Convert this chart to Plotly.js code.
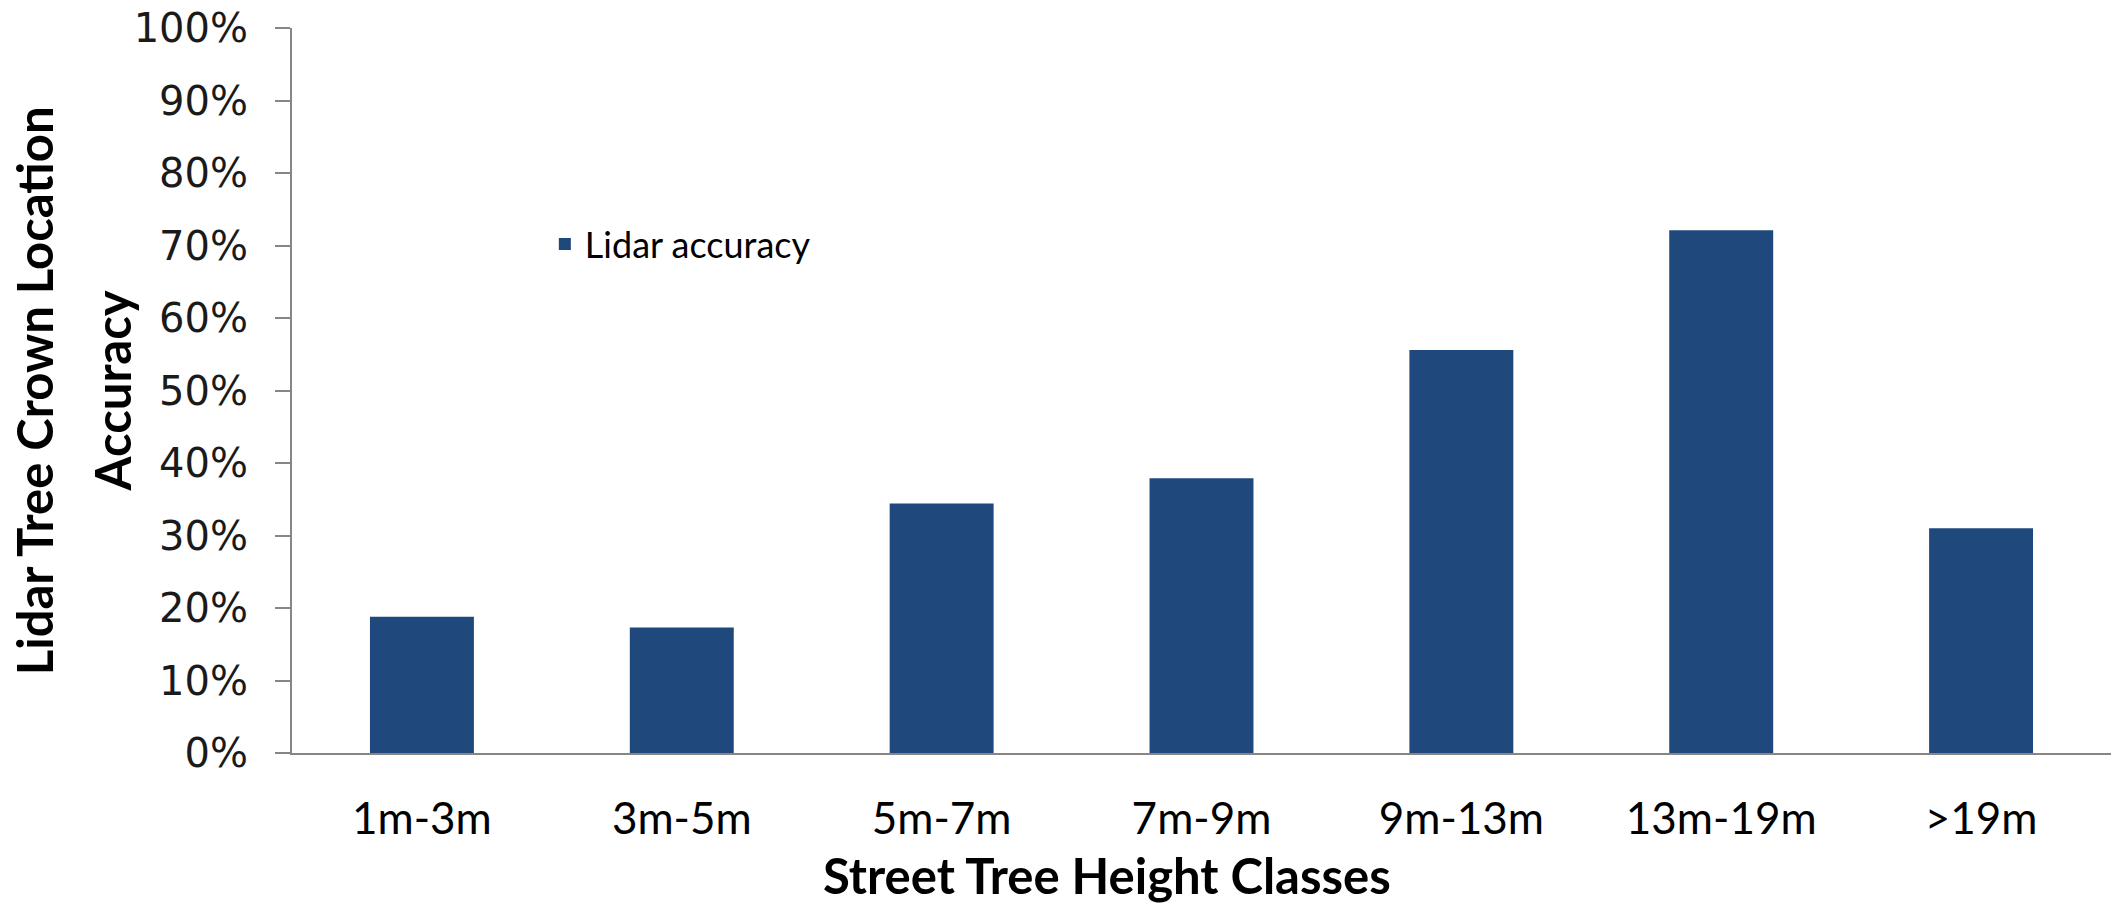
<!DOCTYPE html>
<html>
<head>
<meta charset="utf-8">
<script src="https://cdn.plot.ly/plotly-3.0.1.min.js"></script>
<style>
html,body{margin:0;padding:0;background:#fff;}
#chart{width:2111px;height:908px;}
</style>
</head>
<body>
<div id="chart"></div>
<script>
const categories = ["1m-3m", "3m-5m", "5m-7m", "7m-9m", "9m-13m", "13m-19m", ">19m"];
const lidarAccuracy = [0.188, 0.173, 0.344, 0.379, 0.556, 0.721, 0.310];
const seriesName = "Lidar accuracy";
const yTickVals = [0, 0.1, 0.2, 0.3, 0.4, 0.5, 0.6, 0.7, 0.8, 0.9, 1.0];
const yTickText = ["0%", "10%", "20%", "30%", "40%", "50%", "60%", "70%", "80%", "90%", "100%"];
const xTitle = "Street Tree Height Classes";
const yTitleLines = ["Lidar Tree Crown Location", "Accuracy"];

const sans = 'Lato, "Noto Sans", sans-serif';

const trace = {
  type: "bar",
  x: categories,
  y: lidarAccuracy,
  name: seriesName,
  marker: {color: "#1F497D"},
  showlegend: true,
  hoverinfo: "x+y"
};

const layout = {
  width: 2111,
  height: 908,
  margin: {l: 292, r: 0, t: 28, b: 155, pad: 0},
  paper_bgcolor: "#ffffff",
  plot_bgcolor: "#ffffff",
  bargap: 0.6,
  showlegend: true,
  legend: {
    x: 0.139, y: 0.702, xanchor: "left", yanchor: "middle",
    font: {family: sans, size: 36, color: "#000000"},
    bgcolor: "rgba(0,0,0,0)"
  },
  xaxis: {
    type: "category",
    showline: true,
    linecolor: "#868686",
    linewidth: 2,
    ticks: "",
    showgrid: false,
    zeroline: false,
    tickfont: {family: sans, size: 44, color: "#000000"},
    ticklabelstandoff: 26
  },
  yaxis: {
    range: [0, 1],
    tickvals: yTickVals,
    ticktext: yTickText,
    showline: true,
    linecolor: "#868686",
    linewidth: 2,
    ticks: "outside",
    ticklen: 15,
    tickwidth: 2,
    tickcolor: "#868686",
    showgrid: false,
    zeroline: false,
    tickfont: {family: '"DejaVu Sans", sans-serif', size: 40, color: "#1a1a1a"},
    ticklabelstandoff: 19
  },
  annotations: [
    {text: xTitle, xref: "paper", yref: "paper", x: 0.448, y: -0.168, xanchor: "center", yanchor: "middle",
     showarrow: false, font: {family: sans, size: 49, color: "#000000", weight: "bold"}},
    {text: yTitleLines[0], xref: "paper", yref: "paper", x: -0.142, y: 0.5, xanchor: "center", yanchor: "middle",
     textangle: -90, showarrow: false, font: {family: sans, size: 49, color: "#000000", weight: "bold"}},
    {text: yTitleLines[1], xref: "paper", yref: "paper", x: -0.099, y: 0.5, xanchor: "center", yanchor: "middle",
     textangle: -90, showarrow: false, font: {family: sans, size: 49, color: "#000000", weight: "bold"}}
  ]
};

Plotly.newPlot("chart", [trace], layout, {displayModeBar: false, responsive: false});
</script>
</body>
</html>
